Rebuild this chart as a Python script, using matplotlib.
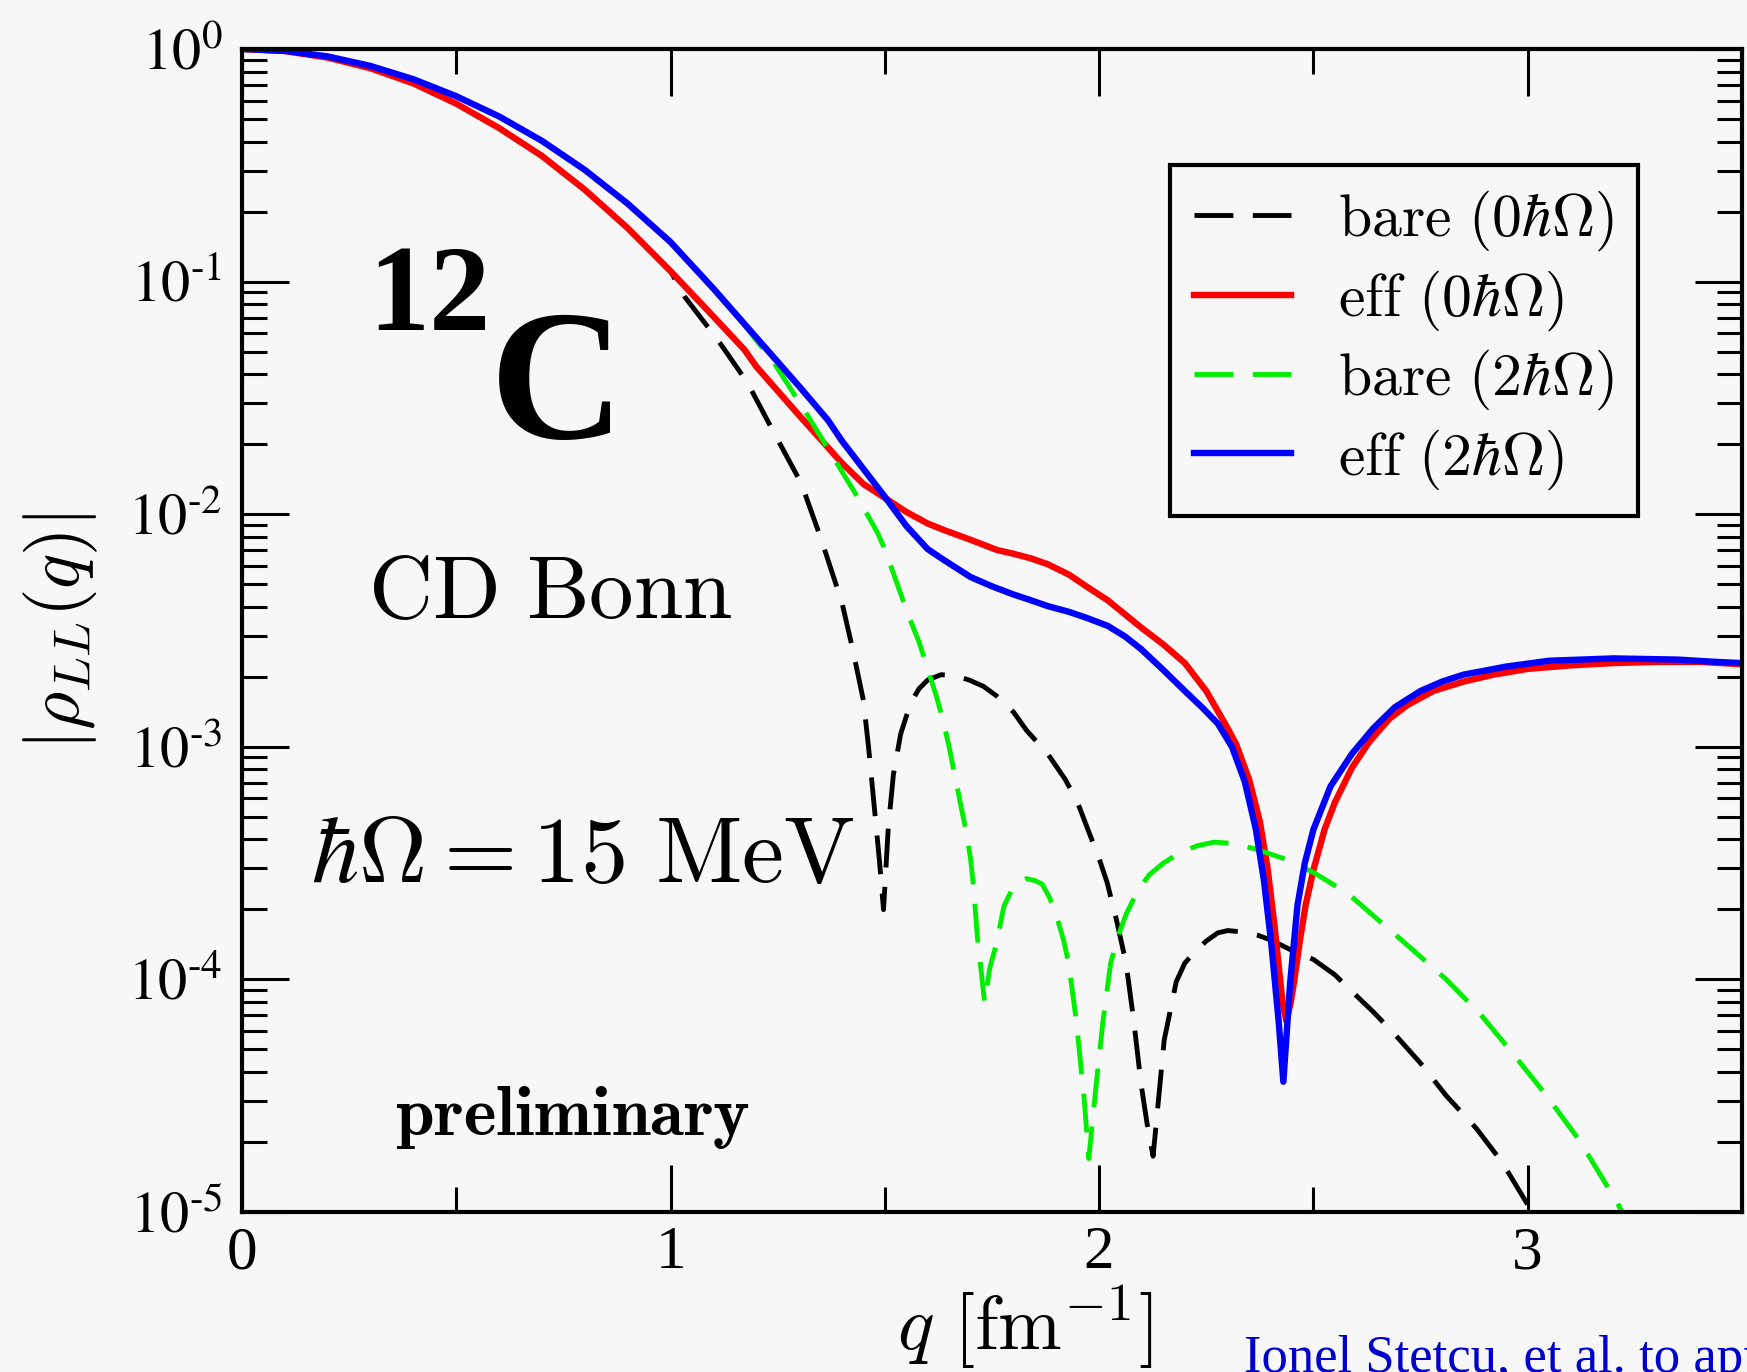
import numpy as np
import matplotlib
matplotlib.use("Agg")
import matplotlib.pyplot as plt
from matplotlib.ticker import FixedLocator, LogLocator, MultipleLocator, NullFormatter

plt.rcParams['font.family'] = 'Liberation Serif'
plt.rcParams['mathtext.fontset'] = 'cm'

BG = '#f7f7f7'

# log10 |rho_LL(q)| for 12C, CD Bonn, hw = 15 MeV
q_bare0 = [0.0, 0.1, 0.2, 0.3, 0.4, 0.5, 0.6, 0.7, 0.8, 0.9, 1.0, 1.033, 1.11, 1.18,
           1.242, 1.305, 1.352, 1.40, 1.425, 1.45, 1.462, 1.475, 1.488, 1.497, 1.508,
           1.52, 1.537, 1.55, 1.564, 1.58, 1.60, 1.631, 1.665, 1.697, 1.73, 1.76, 1.80,
           1.831, 1.88, 1.921, 1.95, 1.974, 2.0, 2.019, 2.04, 2.063, 2.081, 2.098, 2.112,
           2.126, 2.139, 2.152, 2.18, 2.20, 2.224, 2.25, 2.277, 2.30, 2.33, 2.37, 2.40,
           2.455, 2.50, 2.55, 2.589, 2.64, 2.687, 2.75, 2.81, 2.88, 2.94, 3.004, 3.06]
lg_bare0 = [0.0, -0.009, -0.037, -0.083, -0.148, -0.235, -0.34, -0.46, -0.605, -0.77,
            -0.955, -1.065, -1.25, -1.436, -1.652, -1.867, -2.11, -2.38, -2.58,
            -2.80, -3.0, -3.25, -3.50, -3.70, -3.35, -3.12, -2.945, -2.87, -2.80, -2.75,
            -2.713, -2.69, -2.695, -2.713, -2.74, -2.78, -2.85, -2.93, -3.03, -3.14, -3.24,
            -3.356, -3.48, -3.585, -3.74, -3.93, -4.18, -4.45, -4.62, -4.76, -4.51, -4.26,
            -4.01, -3.93, -3.88, -3.835, -3.80, -3.79, -3.795, -3.81, -3.83, -3.88, -3.914,
            -3.98, -4.05, -4.14, -4.23, -4.36, -4.50, -4.64, -4.785, -4.98, -5.2]

q_eff0 = [0.0, 0.1, 0.2, 0.3, 0.4, 0.5, 0.6, 0.7, 0.8, 0.9, 1.0, 1.1, 1.173, 1.2, 1.3,
          1.4, 1.45, 1.5, 1.55, 1.6, 1.638, 1.70, 1.762, 1.80, 1.841, 1.88, 1.93, 1.97,
          2.02, 2.06, 2.1, 2.15, 2.2, 2.25, 2.30, 2.32, 2.35, 2.375, 2.393, 2.41, 2.428,
          2.437, 2.447, 2.455, 2.468, 2.482, 2.50, 2.526, 2.55, 2.59, 2.63, 2.677, 2.72,
          2.78, 2.85, 2.92, 3.0, 3.1, 3.2, 3.3, 3.4, 3.5]
lg_eff0 = [0.0, -0.009, -0.037, -0.083, -0.148, -0.235, -0.34, -0.46, -0.605, -0.77,
           -0.955, -1.15, -1.294, -1.365, -1.575, -1.78, -1.87, -1.93, -1.99, -2.04,
           -2.068, -2.11, -2.154, -2.17, -2.19, -2.215, -2.26, -2.31, -2.37, -2.43,
           -2.49, -2.56, -2.64, -2.76, -2.92, -2.99, -3.14, -3.32, -3.52, -3.78, -4.10,
           -4.18, -4.10, -4.01, -3.84, -3.68, -3.53, -3.356, -3.24, -3.09, -2.98, -2.88,
           -2.82, -2.76, -2.72, -2.69, -2.665, -2.65, -2.64, -2.635, -2.635, -2.645]

q_bare2 = [0.0, 0.1, 0.2, 0.3, 0.4, 0.5, 0.6, 0.7, 0.8, 0.9, 1.0, 1.1, 1.157, 1.242,
           1.312, 1.374, 1.436, 1.483, 1.50, 1.555, 1.58, 1.60, 1.62, 1.635, 1.65, 1.662,
           1.675, 1.689, 1.70, 1.707, 1.716, 1.733, 1.745, 1.76, 1.778, 1.795, 1.81,
           1.831, 1.85, 1.867, 1.885, 1.902, 1.917, 1.929, 1.947, 1.965, 1.976, 1.992,
           2.009, 2.027, 2.045, 2.063, 2.09, 2.117, 2.15, 2.188, 2.23, 2.268, 2.31,
           2.366, 2.43, 2.50, 2.58, 2.655, 2.73, 2.81, 2.89, 2.966, 3.04, 3.12, 3.206,
           3.25]
lg_bare2 = [0.0, -0.008, -0.032, -0.073, -0.13, -0.203, -0.29, -0.395, -0.52, -0.665,
            -0.83, -1.03, -1.15, -1.351, -1.552, -1.738, -1.925, -2.08, -2.15, -2.435,
            -2.55, -2.665, -2.78, -2.88, -3.0, -3.11, -3.23, -3.356, -3.48, -3.60, -3.817,
            -4.10, -3.95, -3.85, -3.685, -3.62, -3.585, -3.567, -3.575, -3.59, -3.65,
            -3.735, -3.83, -3.93, -4.18, -4.51, -4.77, -4.475, -4.18, -3.93, -3.81, -3.72,
            -3.62, -3.55, -3.50, -3.455, -3.425, -3.41, -3.415, -3.44, -3.48, -3.54,
            -3.63, -3.75, -3.87, -4.0, -4.15, -4.32, -4.49, -4.69, -4.95, -5.1]

q_eff2 = [0.0, 0.1, 0.2, 0.3, 0.4, 0.5, 0.6, 0.7, 0.8, 0.9, 1.0, 1.1, 1.2, 1.25, 1.3,
          1.367, 1.4, 1.5, 1.55, 1.6, 1.638, 1.70, 1.75, 1.80, 1.841, 1.88, 1.93, 1.97,
          2.02, 2.06, 2.098, 2.15, 2.2, 2.24, 2.277, 2.31, 2.34, 2.366, 2.385, 2.402,
          2.419, 2.43, 2.446, 2.463, 2.48, 2.50, 2.54, 2.59, 2.64, 2.69, 2.75, 2.80,
          2.85, 2.95, 3.05, 3.2, 3.35, 3.44, 3.5]
lg_eff2 = [0.0, -0.008, -0.032, -0.073, -0.13, -0.203, -0.29, -0.395, -0.52, -0.665,
           -0.83, -1.03, -1.24, -1.345, -1.45, -1.595, -1.685, -1.925, -2.05, -2.15,
           -2.197, -2.27, -2.31, -2.345, -2.37, -2.395, -2.42, -2.445, -2.48, -2.525,
           -2.58, -2.67, -2.76, -2.83, -2.90, -3.0, -3.15, -3.356, -3.58, -3.85, -4.18,
           -4.44, -4.01, -3.68, -3.50, -3.356, -3.17, -3.03, -2.92, -2.83, -2.76, -2.72,
           -2.69, -2.655, -2.63, -2.62, -2.625, -2.635, -2.64]

series = [
    (q_bare0, lg_bare0, 'black', 'dashed', r'$\mathrm{bare}\ (0\hbar\Omega)$'),
    (q_eff0, lg_eff0, '#ff0000', 'solid', r'$\mathrm{eff}\ (0\hbar\Omega)$'),
    (q_bare2, lg_bare2, '#00ee00', 'dashed', r'$\mathrm{bare}\ (2\hbar\Omega)$'),
    (q_eff2, lg_eff2, '#0000ff', 'solid', r'$\mathrm{eff}\ (2\hbar\Omega)$'),
]

fig = plt.figure(figsize=(17.47, 13.72), dpi=100, facecolor=BG)
ax = fig.add_axes([0.1385, 0.1166, 0.8586, 0.8477])
ax.set_facecolor(BG)

for q, lg, col, style, lab in series:
    rho = 10.0 ** np.array(lg)
    if style == 'dashed':
        ax.plot(q, rho, color=col, lw=3.5, ls=(0, (8, 4)), label=lab)
    else:
        ax.plot(q, rho, color=col, lw=4.6, ls='-', label=lab)

ax.set_yscale('log')
ax.set_xlim(0, 3.5)
ax.set_ylim(1e-5, 1)

# ticks on all four sides, pointing in
ax.xaxis.set_major_locator(FixedLocator([0, 1, 2, 3]))
ax.xaxis.set_minor_locator(MultipleLocator(0.5))
ax.set_yticks(10.0 ** np.arange(-5, 1))
ax.yaxis.set_minor_locator(LogLocator(base=10, subs=np.arange(2, 10), numticks=20))
ax.yaxis.set_minor_formatter(NullFormatter())
ax.set_yticklabels([r'$10^{\text{-}%d}$' % -e if e < 0 else r'$10^{%d}$' % e
                    for e in range(-5, 1)])
ax.set_xticklabels(['0', '1', '2', '3'])
ax.tick_params(which='both', direction='in', top=True, right=True, width=2.2,
               color='black')
ax.tick_params(which='major', length=34)
ax.tick_params(which='minor', length=18)
ax.tick_params(axis='y', labelsize=42, pad=14)
ax.tick_params(axis='x', labelsize=44, pad=10)
for lab in ax.get_yticklabels():
    lab.set_math_fontfamily('stix')
for sp in ax.spines.values():
    sp.set_linewidth(3)

leg = ax.legend(loc='upper left', bbox_to_anchor=(0.619, 0.9003), borderaxespad=0,
                fontsize=43, handlelength=1.62, handletextpad=0.79, labelspacing=0.25,
                borderpad=0.4, fancybox=False, edgecolor='black', facecolor=BG,
                framealpha=1)
leg.get_frame().set_linewidth(3)

# annotations inside the frame
ax.text(0.084, 0.758, '12', transform=ax.transAxes, fontsize=88, fontweight='bold',
        va='baseline', ha='left')
ax.text(0.1653, 0.6655, 'C', transform=ax.transAxes, fontsize=134, fontweight='bold',
        va='baseline', ha='left')
ax.text(0.084, 0.5107, r'$\mathrm{CD\ Bonn}$', transform=ax.transAxes, fontsize=64,
        va='baseline', ha='left')
ax.text(0.046, 0.2838, r'$\hbar\Omega = 15\ \mathrm{MeV}$', transform=ax.transAxes,
        fontsize=68, va='baseline', ha='left')
ax.text(0.102, 0.0662, r'$\mathbf{preliminary}$', transform=ax.transAxes, fontsize=50,
        va='baseline', ha='left')

fig.text(0.0349, 0.5394, r'$|\rho_{LL}(q)|$', rotation=90, fontsize=53,
         ha='center', va='center')
fig.text(0.5134, 0.016, r'$q\ [\mathrm{fm}^{-1}]$', fontsize=55, ha='left',
         va='baseline')
fig.text(0.712, 0.0, 'Ionel Stetcu, et al. to appear', color='#0000cc', fontsize=38,
         ha='left', va='baseline')

fig.savefig('out.png', dpi=100, facecolor=BG)
